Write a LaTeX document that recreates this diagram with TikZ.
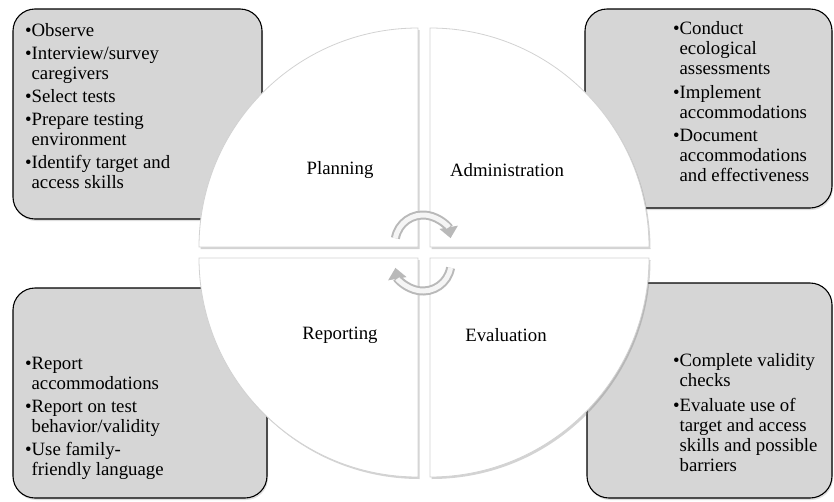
\documentclass[tikz,border=0pt]{standalone}
\usepackage{fontspec}
\setmainfont{Liberation Serif}
\usetikzlibrary{shapes,arrows.meta,positioning,shadows}
\tikzstyle{note} = [draw, rounded corners=22pt, line width=1.1pt, fill=black!16, drop shadow={shadow xshift=1pt, shadow yshift=-2pt, opacity=0.25}]
\tikzstyle{items} = [align=left, inner sep=0pt, font=\fontsize{18.8}{20}\selectfont]
\tikzstyle{quarter} = [draw=gray!35, line width=0.8pt, fill=white, drop shadow={shadow xshift=1.5pt, shadow yshift=-2pt, opacity=0.35}]
\tikzstyle{phase} = [font=\fontsize{18.8}{20}\selectfont]
\tikzstyle{turn} = [line width=9pt, draw=gray!55, -{Triangle[width=18pt,length=11pt]}]
\tikzstyle{turnlight} = [line width=5pt, draw=gray!8, shorten >=11pt]

\begin{document}
\begin{tikzpicture}[x=1pt,y=1pt]
\useasboundingbox (0,0) rectangle (834,-501);

\node[note, minimum width=249pt, minimum height=210pt] (planbox) at (137.5,-114) {};
\node[note, minimum width=247pt, minimum height=199pt] (adminbox) at (708.5,-108.5) {};
\node[note, minimum width=254pt, minimum height=210pt] (reportbox) at (140,-393) {};
\node[note, minimum width=245pt, minimum height=215pt] (evalbox) at (709.5,-390.5) {};

\node[items, below right=15pt and 12.4pt of planbox.north west] (plantext) {\textbullet Observe\\[3pt]
  \textbullet Interview/survey\\ \phantom{\textbullet}caregivers\\[3pt]
  \textbullet Select tests\\[3pt]
  \textbullet Prepare testing\\ \phantom{\textbullet}environment\\[3pt]
  \textbullet Identify target and\\ \phantom{\textbullet}access skills};
\node[items, below right=13pt and 88.4pt of adminbox.north west] (admintext) {\textbullet Conduct\\ \phantom{\textbullet}ecological\\ \phantom{\textbullet}assessments\\[3.5pt]
  \textbullet Implement\\ \phantom{\textbullet}accommodations\\[3.5pt]
  \textbullet Document\\ \phantom{\textbullet}accommodations\\ \phantom{\textbullet}and effectiveness};
\node[items, below right=69.5pt and 12.4pt of reportbox.north west] (reporttext) {\textbullet Report\\ \phantom{\textbullet}accommodations\\[3pt]
  \textbullet Report on test\\ \phantom{\textbullet}behavior/validity\\[3pt]
  \textbullet Use family-\\ \phantom{\textbullet}friendly language};
\node[items, below right=71pt and 86.4pt of evalbox.north west] (evaltext) {\textbullet Complete validity\\ \phantom{\textbullet}checks\\[4.5pt]
  \textbullet Evaluate use of\\ \phantom{\textbullet}target and access\\ \phantom{\textbullet}skills and possible\\ \phantom{\textbullet}barriers};

\draw[quarter] (418,-247) -- (199,-247) arc[start angle=180, end angle=90, radius=219] -- cycle;
\draw[quarter] (430,-247) -- (430,-28) arc[start angle=90, end angle=0, radius=219] -- cycle;
\draw[quarter] (418,-258) -- (418,-477) arc[start angle=270, end angle=180, radius=219] -- cycle;
\draw[quarter] (430,-258) -- (649,-258) arc[start angle=0, end angle=-90, radius=219] -- cycle;

\node[phase] (plan) at (340,-170) {Planning};
\node[phase] (admin) at (507,-170) {Administration};
\node[phase] (report) at (340,-335) {Reporting};
\node[phase] (eval) at (506,-335) {Evaluation};

\coordinate (uphub) at (423,-243);
\coordinate (lowhub) at (423,-263);
\draw[turn] ([shift={(170:28)}]uphub) arc[start angle=170, end angle=10, radius=28];
\draw[turnlight] ([shift={(170:28)}]uphub) arc[start angle=170, end angle=10, radius=28];
\draw[turn] ([shift={(-10:28)}]lowhub) arc[start angle=-10, end angle=-170, radius=28];
\draw[turnlight] ([shift={(-10:28)}]lowhub) arc[start angle=-10, end angle=-170, radius=28];
\end{tikzpicture}
\end{document}
